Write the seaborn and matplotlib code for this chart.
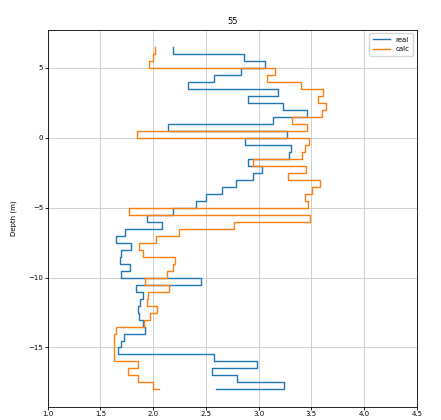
import matplotlib
matplotlib.use("Agg")
import matplotlib.pyplot as plt
import seaborn as sns
import pandas as pd

title = "55"
depth = [6.5, 6.0, 5.5, 5.0, 4.5, 4.0, 3.5, 3.0, 2.5, 2.0, 1.5, 1.0, 0.5, 0.0,
         -0.5, -1.0, -1.5, -2.0, -2.5, -3.0, -3.5, -4.0, -4.5, -5.0,
         -5.5, -6.0, -6.5, -7.0, -7.5, -8.0, -8.5, -9.0, -9.5, -10.0,
         -10.5, -11.0, -11.5, -12.0, -12.5, -13.0, -13.5, -14.0, -14.5, -15.0, -15.5,
         -16.0, -16.5, -17.0, -17.5, -18.0]
real = [2.19, 2.86, 3.06, 2.83, 2.58, 2.33, 3.18, 2.90, 3.23, 3.46, 3.14, 2.14, 3.27, 2.87,
        3.31, 3.29, 2.90, 3.03, 2.95, 2.79, 2.65, 2.50, 2.41, 2.19,
        1.94, 2.08, 1.73, 1.65, 1.79, 1.70, 1.69, 1.78, 1.70, 2.45,
        1.84, 1.90, 1.88, 1.86, 1.87, 1.90, 1.92, 1.72, 1.70, 1.67, 2.58,
        2.99, 2.56, 2.80, 3.24, 2.60]
calc = [2.02, 2.00, 1.96, 3.16, 3.08, 3.40, 3.61, 3.56, 3.64, 3.60, 3.32, 3.46, 1.85, 3.48,
        3.44, 3.41, 2.95, 3.45, 3.28, 3.58, 3.51, 3.44, 3.47, 1.77,
        3.49, 2.77, 2.25, 2.03, 1.87, 1.90, 2.21, 2.19, 2.13, 1.92,
        2.15, 1.95, 1.94, 2.04, 1.97, 1.91, 1.65, 1.63, 1.63, 1.63, 1.63,
        1.86, 1.76, 1.86, 2.00, 2.06]
x_ticks = [1.0, 1.5, 2.0, 2.5, 3.0, 3.5, 4.0, 4.5]
y_ticks = [5, 0, -5, -10, -15]

df = pd.DataFrame({"depth": depth, "real": real, "calc": calc})

fig = plt.figure(figsize=(4.41, 4.20), dpi=100)
ax = fig.add_axes([0.108, 0.032, 0.837, 0.897])

sns.lineplot(data=df, x="real", y="depth", sort=False, estimator=None,
             drawstyle="steps-pre", color="#1f77b4", lw=1.0, label="real", ax=ax)
sns.lineplot(data=df, x="calc", y="depth", sort=False, estimator=None,
             drawstyle="steps-pre", color="#ff7f0e", lw=1.0, label="calc", ax=ax)

ax.set_xlim(1.0, 4.5)
ax.set_xticks(x_ticks)
ax.set_yticks(y_ticks)
ax.grid(True, color="#c8c8c8", lw=0.6)
ax.set_axisbelow(True)
ax.tick_params(labelsize=5, length=2, width=0.6, pad=1.2)
for s in ax.spines.values():
    s.set_linewidth(0.6)
ax.set_xlabel("")
ax.set_ylabel("Depth (m)", fontsize=5, labelpad=8)
ax.set_title(title, fontsize=6, pad=4)
ax.legend(loc="upper right", fontsize=5, handlelength=2.5, borderpad=0.5)

fig.savefig("out.png", dpi=100)
